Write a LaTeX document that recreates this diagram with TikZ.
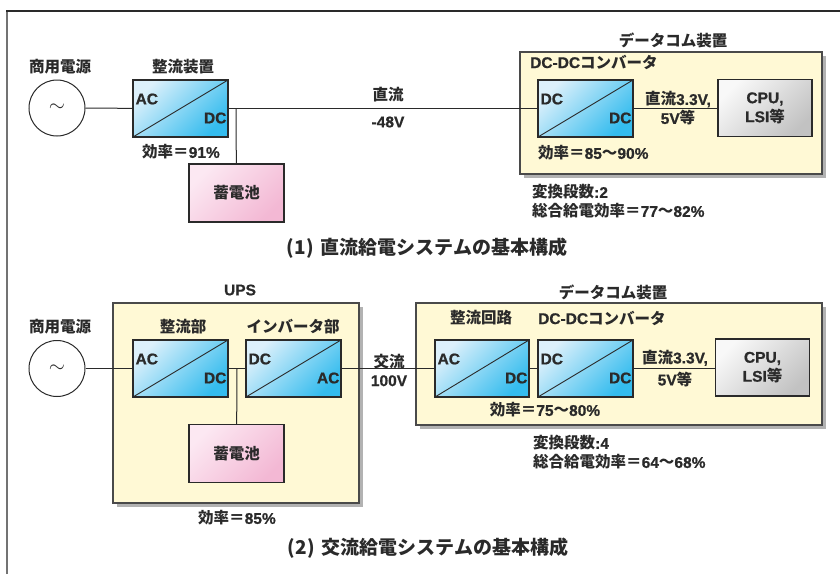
\documentclass[tikz,border=0pt]{standalone}
\usepackage{fontspec}
\setmainfont{Noto Sans CJK JP}
\newfontfamily\latf{Liberation Sans}[UprightFont={* Bold}, BoldFont={* Bold}, BoldFeatures={FakeBold=0.8}]
\newcommand\lat[1]{{\latf #1}}
\usetikzlibrary{calc,shadows}
\definecolor{bluel}{HTML}{DCF0FB}
\definecolor{blued}{HTML}{34BCEE}
\definecolor{pinkl}{HTML}{FCE8F2}
\definecolor{pinkd}{HTML}{F3B8D4}
\definecolor{grayl}{HTML}{F8F8F8}
\definecolor{grayd}{HTML}{C2C2C2}
\definecolor{cream}{HTML}{FFF9D5}
\definecolor{edge}{HTML}{2A2A2A}
\begin{document}
\begin{tikzpicture}[x=1pt,y=-1pt,
  every node/.style={font=\fontsize{15.5}{19}\selectfont\bfseries, inner sep=0pt, text=edge},
  captxt/.style={font=\fontsize{19}{22}\selectfont\bfseries},
  wire/.style={draw=edge, line width=1pt},
  conv/.style={draw=edge, line width=1.2pt, minimum width=95pt, minimum height=57pt,
    top color=bluel, bottom color=blued, shading angle=45,
    path picture={\draw[edge, line width=0.9pt] (path picture bounding box.south west) -- (path picture bounding box.north east);}},
  batt/.style={draw=edge, line width=1.2pt, minimum width=95pt, minimum height=58pt,
    top color=pinkl, bottom color=pinkd, shading angle=45},
  cpu/.style={draw=edge, line width=1.2pt, minimum width=94pt, minimum height=57pt, align=center,
    top color=grayl, bottom color=grayd, shading angle=45},
  cont/.style={draw=edge!85, line width=1.2pt, fill=cream,
    drop shadow={shadow xshift=4pt, shadow yshift=-4pt, fill=black!30, opacity=1}},
  src/.style={circle, draw=edge, line width=1pt, minimum size=56pt, font=\fontsize{20}{20}\selectfont},
  ltxt/.style={anchor=west},
  rtxt/.style={anchor=east}
]
\useasboundingbox (0,0) rectangle (840,574);
\draw[line width=2pt, black!55] (7,574) -- (7,11);
\draw[line width=1.5pt, edge] (6,11) -- (840,11);

% ---------- (1) DC feeding ----------
\node[cont, minimum width=302pt, minimum height=122pt] (d1) at (671,113) {};
\node (l1a) at (60,67) {商用電源};
\node[src] (s1) at (57,108) {$\sim$};
\node (l1b) at (183,67) {整流装置};
\node[conv] (r1) at (180.5,108.5) {};
\node[ltxt] (r1i) at ($(r1.west)+(3,-9.5)$) {\lat{AC}};
\node[rtxt] (r1o) at ($(r1.east)+(-2,9.5)$) {\lat{DC}};
\node (e1a) at (181,152) {効率＝\lat{91\%}};
\node[batt] (b1) at (236.5,193) {蓄電池};
\coordinate (j1) at (236,108.5);
\node (v1a) at (388,95) {直流};
\node (v1b) at (388,122) {\lat{-48V}};
\node (l1c) at (673,40) {データコム装置};
\node[ltxt] (l1d) at (530,62) {\lat{DC-DC}コンバータ};
\node[conv] (c1) at (585.5,108.5) {};
\node[ltxt] (c1i) at ($(c1.west)+(3,-9.5)$) {\lat{DC}};
\node[rtxt] (c1o) at ($(c1.east)+(-2,9.5)$) {\lat{DC}};
\node[align=center] (v1c) at (678,108.5) {直流\lat{3.3V,}\\\lat{5V}等};
\node[cpu] (p1) at (765,108) {\lat{CPU,}\\\lat{LSI}等};
\node[ltxt] (e1b) at (538,153) {効率＝\lat{85}～\lat{90\%}};
\node[ltxt, align=left] (t1) at (532,201.5) {変換段数\lat{:2}\\総合給電効率＝\lat{77}～\lat{82\%}};
\node[captxt] (cap1) at (427,248) {(1)\hspace{7pt}直流給電システムの基本構成};

\draw[wire] (s1) -- (r1);
\draw[wire] (r1) -- (c1);
\draw[wire] (j1) -- (b1);
\draw[wire] (c1.east) -- (c1.east -| p1.west);

% ---------- (2) AC feeding ----------
\node[cont, minimum width=246pt, minimum height=200pt] (u2) at (236,403) {};
\node[cont, minimum width=406pt, minimum height=122pt] (d2) at (619,364) {};
\node (l2u) at (240,290) {\lat{UPS}};
\node (l2a) at (60,327) {商用電源};
\node[src] (s2) at (57,368.5) {$\sim$};
\node (l2b) at (183,327) {整流部};
\node[conv] (r2) at (180.5,368.5) {};
\node[ltxt] (r2i) at ($(r2.west)+(3,-9.5)$) {\lat{AC}};
\node[rtxt] (r2o) at ($(r2.east)+(-2,9.5)$) {\lat{DC}};
\node (l2c) at (293,327) {インバータ部};
\node[conv] (i2) at (293.5,368.5) {};
\node[ltxt] (i2i) at ($(i2.west)+(3,-9.5)$) {\lat{DC}};
\node[rtxt] (i2o) at ($(i2.east)+(-2,9.5)$) {\lat{AC}};
\coordinate (j2) at (237,368.5);
\node[batt] (b2) at (236.5,453.5) {蓄電池};
\node (e2a) at (237,518) {効率＝\lat{85\%}};
\node[align=center] (v2a) at (389,370) {交流\\\lat{100V}};
\node (l2d) at (613,292) {データコム装置};
\node (l2e) at (481,318) {整流回路};
\node[ltxt] (l2f) at (538,318) {\lat{DC-DC}コンバータ};
\node[conv, minimum width=94pt] (a2) at (482,368.5) {};
\node[ltxt] (a2i) at ($(a2.west)+(3,-9.5)$) {\lat{AC}};
\node[rtxt] (a2o) at ($(a2.east)+(-2,9.5)$) {\lat{DC}};
\node[conv] (c2) at (585.5,368.5) {};
\node[ltxt] (c2i) at ($(c2.west)+(3,-9.5)$) {\lat{DC}};
\node[rtxt] (c2o) at ($(c2.east)+(-2,9.5)$) {\lat{DC}};
\node[align=center, font=\fontsize{15.5}{22}\selectfont\bfseries] (v2c) at (675,368.5) {直流\lat{3.3V,}\\\lat{5V}等};
\node[cpu] (p2) at (762.5,367.5) {\lat{CPU,}\\\lat{LSI}等};
\node (e2b) at (545,410) {効率＝\lat{75}～\lat{80\%}};
\node[ltxt, align=left] (t2) at (533,452.5) {変換段数\lat{:4}\\総合給電効率＝\lat{64}～\lat{68\%}};
\node[captxt] (cap2) at (428,548) {(2)\hspace{7pt}交流給電システムの基本構成};

\draw[wire] (s2) -- (r2);
\draw[wire] (r2) -- (i2);
\draw[wire] (j2) -- (b2);
\draw[wire] (i2) -- (a2);
\draw[wire] (a2) -- (c2);
\draw[wire] (c2.east) -- (c2.east -| p2.west);
\end{tikzpicture}
\end{document}
